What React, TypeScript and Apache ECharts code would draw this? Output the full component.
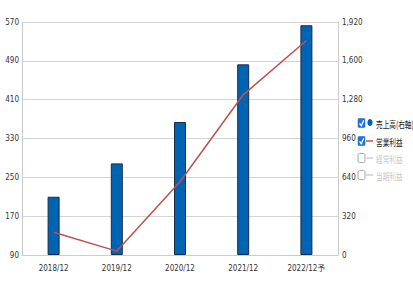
import React, { useEffect, useRef } from "react";
import * as echarts from "echarts";

const categories = ["2018/12", "2019/12", "2020/12", "2021/12", "2022/12予"];
const salesValues = [480, 755, 1096, 1571, 1893];
const operatingProfit = [137, 98, 241, 420, 532];
const leftTicks = { min: 90, max: 570, interval: 80 };
const rightTicks = { min: 0, max: 1920, interval: 320 };
const legendNames = ["売上高(右軸)", "営業利益", "経常利益", "当期利益"];
const legendChecked = [true, true, false, false];
const legendIcons = ["dot", "line", "line", "line"];

const BAR_COLOR = "#0064b4";
const LINE_COLOR = "#c0504d";
const FONT = "'Liberation Sans Narrow', 'DejaVu Sans Condensed', 'Noto Sans CJK JP', sans-serif";
const CJK_FONT = "'Noto Sans CJK JP', sans-serif";

export default function App() {
  const ref = useRef<HTMLDivElement>(null);
  useEffect(() => {
    if (!ref.current) return;
    const chart = echarts.init(ref.current, null, { renderer: "svg" });
    const rowCenters = [123, 141, 158, 175];
    const legendEls: any[] = [];
    legendNames.forEach((name, i) => {
      const cy = rowCenters[i];
      const on = legendChecked[i];
      if (on) {
        legendEls.push({
          type: "rect",
          shape: { x: 358, y: cy - 4.5, width: 7, height: 9, r: 1 },
          style: { fill: "#1a73e8", stroke: "#1a5fc0", lineWidth: 0.5 },
        });
        legendEls.push({
          type: "polyline",
          shape: { points: [[359.5, cy + 0.3], [361.3, cy + 2.8], [363.8, cy - 2.8]] },
          style: { stroke: "#ffffff", lineWidth: 1.3, fill: "none" },
        });
      } else {
        legendEls.push({
          type: "rect",
          shape: { x: 358, y: cy - 4.5, width: 7, height: 9, r: 1.5 },
          style: { fill: "#ffffff", stroke: "#aaaaaa", lineWidth: 1 },
        });
      }
      if (legendIcons[i] === "dot") {
        legendEls.push({
          type: "ellipse",
          shape: { cx: 370, cy: cy - 0.5, rx: 2.6, ry: 3.6 },
          style: { fill: BAR_COLOR },
        });
      } else {
        legendEls.push({
          type: "line",
          shape: { x1: 366, y1: cy, x2: 373, y2: cy },
          style: { stroke: on ? LINE_COLOR : "#cfcfcf", lineWidth: 1.5 },
        });
      }
      legendEls.push({
        type: "text",
        x: 376,
        y: cy,
        scaleX: 0.7,
        style: {
          text: name,
          fontSize: 9.5,
          fontFamily: CJK_FONT,
          fill: on ? "#222222" : "#c8c8c8",
          verticalAlign: "middle",
          align: "left",
        },
      });
    });
    chart.setOption({
      animation: false,
      grid: { left: 22, right: 75, top: 22, bottom: 27 },
      xAxis: {
        type: "category",
        data: categories,
        axisLine: { lineStyle: { color: "#cccccc" } },
        axisTick: { inside: true, length: 7, lineStyle: { color: "#dddddd" } },
        axisLabel: { fontSize: 8, color: "#333", margin: 9, fontFamily: FONT },
      },
      yAxis: [
        {
          type: "value",
          min: leftTicks.min,
          max: leftTicks.max,
          interval: leftTicks.interval,
          position: "left",
          axisLine: { show: true, lineStyle: { color: "#cccccc" } },
          axisTick: { show: false },
          axisLabel: { fontSize: 8, color: "#333", margin: 3, fontFamily: FONT },
          splitLine: { lineStyle: { color: "#d4d4d4", width: 1 } },
        },
        {
          type: "value",
          min: rightTicks.min,
          max: rightTicks.max,
          interval: rightTicks.interval,
          position: "right",
          axisLine: { show: true, lineStyle: { color: "#cccccc" } },
          axisTick: { show: false },
          axisLabel: {
            fontSize: 8,
            color: "#333",
            margin: 4,
            fontFamily: FONT,
            formatter: (v: number) => v.toLocaleString("en-US"),
          },
          splitLine: { show: false },
        },
      ],
      series: [
        {
          name: legendNames[0],
          type: "bar",
          yAxisIndex: 1,
          data: salesValues,
          barWidth: 12,
          itemStyle: { color: BAR_COLOR, borderColor: "#1b2a44", borderWidth: 1 },
        },
        {
          name: legendNames[1],
          type: "line",
          yAxisIndex: 0,
          data: operatingProfit,
          symbol: "none",
          lineStyle: { color: LINE_COLOR, width: 1.5 },
          itemStyle: { color: LINE_COLOR },
        },
      ],
      graphic: legendEls,
    });
    return () => chart.dispose();
  }, []);
  return (
    <div
      ref={ref}
      style={{ position: "fixed", left: 0, top: 0, width: 413, height: 282, background: "#fff" }}
    />
  );
}
